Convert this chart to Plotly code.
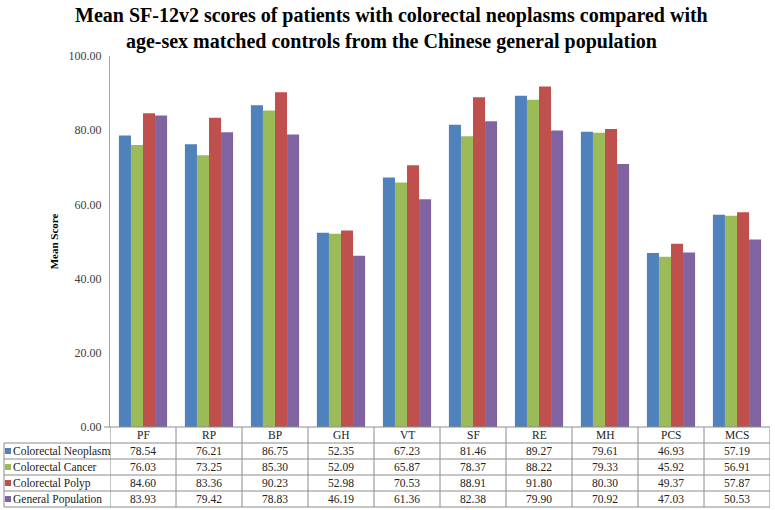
import plotly.graph_objects as go

categories = ["PF", "RP", "BP", "GH", "VT", "SF", "RE", "MH", "PCS", "MCS"]
series_names = ["Colorectal Neoplasm", "Colorectal Cancer", "Colorectal Polyp", "General Population"]
neoplasm = [78.54, 76.21, 86.75, 52.35, 67.23, 81.46, 89.27, 79.61, 46.93, 57.19]
cancer = [76.03, 73.25, 85.30, 52.09, 65.87, 78.37, 88.22, 79.33, 45.92, 56.91]
polyp = [84.60, 83.36, 90.23, 52.98, 70.53, 88.91, 91.80, 80.30, 49.37, 57.87]
general = [83.93, 79.42, 78.83, 46.19, 61.36, 82.38, 79.90, 70.92, 47.03, 50.53]
y_ticks = [0, 20, 40, 60, 80, 100]

series_values = [neoplasm, cancer, polyp, general]
colors = ["#4F81BD", "#9BBB59", "#C0504D", "#8064A2"]

FAM = "Liberation Serif, Times New Roman, serif"
W, H = 775, 510
L, R, T, B = 110, 5, 56, 83
PW, PH = W - L - R, H - T - B

def px_x(px):
    return (px - L) / PW

def px_y(py):
    return (H - B - py) / PH

fig = go.Figure()
for name, vals, col in zip(series_names, series_values, colors):
    fig.add_trace(go.Bar(x=categories, y=vals, name=name, marker=dict(color=col, line=dict(width=0))))

shapes = []
annotations = []
line_col = "#8C8C8C"
shapes.append(dict(type="line", xref="paper", yref="paper", x0=px_x(104), x1=px_x(770),
                   y0=px_y(427), y1=px_y(427), line=dict(color=line_col, width=1)))
for py in [443, 459, 475, 491, 507]:
    shapes.append(dict(type="line", xref="paper", yref="paper", x0=px_x(4), x1=px_x(770),
                       y0=px_y(py), y1=px_y(py), line=dict(color=line_col, width=1)))
shapes.append(dict(type="line", xref="paper", yref="paper", x0=px_x(4), x1=px_x(4),
                   y0=px_y(443), y1=px_y(507), line=dict(color=line_col, width=1)))
for k in range(len(categories) + 1):
    shapes.append(dict(type="line", xref="x", yref="paper", x0=k - 0.5, x1=k - 0.5,
                       y0=px_y(427), y1=px_y(507), line=dict(color=line_col, width=1)))

row_centers = [451, 467, 483, 499]
tfont = dict(family=FAM, size=11.5, color="#222222")
for c in categories:
    annotations.append(dict(xref="x", yref="paper", x=c, y=px_y(435), text=c, showarrow=False,
                            font=tfont, yanchor="middle"))
for r, (name, vals, col) in enumerate(zip(series_names, series_values, colors)):
    yc = row_centers[r]
    shapes.append(dict(type="rect", xref="paper", yref="paper", x0=px_x(5), x1=px_x(11),
                       y0=px_y(yc + 3), y1=px_y(yc - 3), fillcolor=col, line=dict(width=0)))
    annotations.append(dict(xref="paper", yref="paper", x=px_x(11), y=px_y(yc), text=name,
                            showarrow=False, xanchor="left", yanchor="middle", font=tfont))
    for c, v in zip(categories, vals):
        annotations.append(dict(xref="x", yref="paper", x=c, y=px_y(yc), text=f"{v:.2f}",
                                showarrow=False, yanchor="middle", font=tfont))

fig.update_layout(
    width=W, height=H,
    margin=dict(l=L, r=R, t=T, b=B, autoexpand=False),
    paper_bgcolor="white", plot_bgcolor="white",
    font=dict(family=FAM, color="#333333"),
    title=dict(text="<b>Mean SF-12v2 scores of patients with colorectal neoplasms compared with<br>age-sex matched controls from the Chinese general population</b>",
               x=0.505, xanchor="center", y=0.957, yanchor="top",
               font=dict(family=FAM, size=20, color="black")),
    barmode="group", bargap=0.27, bargroupgap=0,
    showlegend=False,
    xaxis=dict(showticklabels=False, showline=False, showgrid=False, ticks="",
               range=[-0.5, len(categories) - 0.5]),
    yaxis=dict(range=[0, 100], tickvals=y_ticks, tickformat=".2f", showgrid=False,
               showline=True, linecolor="#A6A6A6", linewidth=1, ticks="outside",
               ticklen=5, tickcolor="rgba(0,0,0,0)",
               tickfont=dict(family=FAM, size=12, color="#404040"),
               title=dict(text="<b>Mean Score</b>", font=dict(family=FAM, size=11, color="black"), standoff=7)),
    shapes=shapes, annotations=annotations,
)

fig.write_html("out.html", config={"displayModeBar": False},
               post_script="document.body.style.margin='0';document.body.style.padding='0';")
